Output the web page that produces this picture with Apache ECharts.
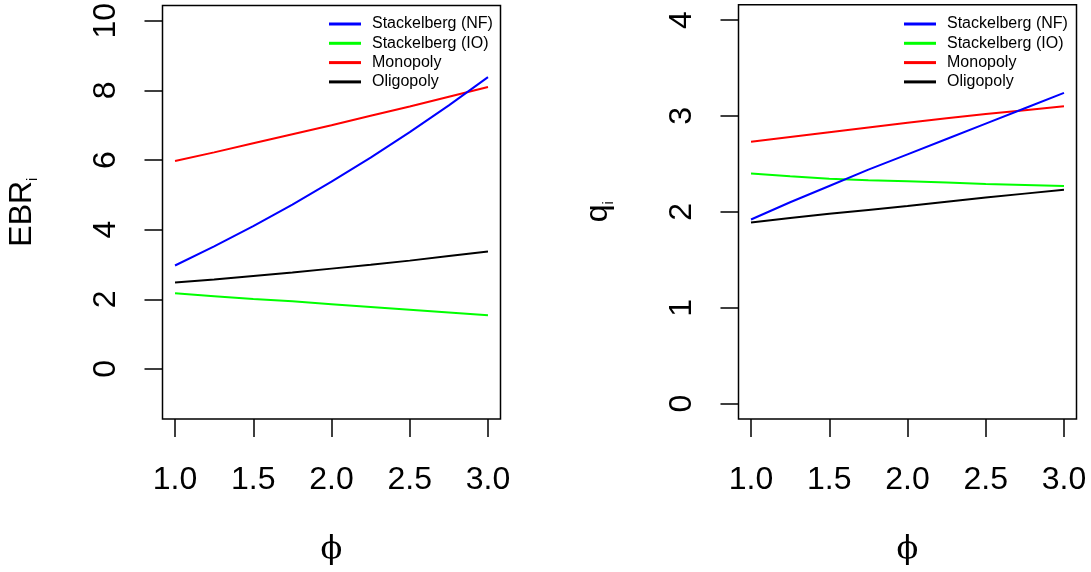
<!DOCTYPE html>
<html>
<head>
<meta charset="utf-8">
<script src="https://cdn.jsdelivr.net/npm/echarts@6/dist/echarts.min.js"></script>
<style>html,body{margin:0;padding:0;background:#fff}#c{width:1091px;height:572px}</style>
</head>
<body>
<div id="c"></div>
<script>
const phi = [1.0, 1.25, 1.5, 1.75, 2.0, 2.25, 2.5, 2.75, 3.0];
const seriesNames = ['Stackelberg (NF)', 'Stackelberg (IO)', 'Monopoly', 'Oligopoly'];
const seriesColors = ['#0000FF', '#00FF00', '#FF0000', '#000000'];

const ebrNF = [2.97, 3.52, 4.10, 4.72, 5.38, 6.07, 6.80, 7.57, 8.38];
const ebrIO = [2.17, 2.09, 2.01, 1.94, 1.86, 1.78, 1.70, 1.62, 1.54];
const ebrMono = [5.97, 6.22, 6.48, 6.74, 7.00, 7.27, 7.54, 7.82, 8.10];
const ebrOligo = [2.48, 2.57, 2.67, 2.77, 2.88, 2.99, 3.11, 3.24, 3.37];

const qNF = [1.92, 2.10, 2.27, 2.44, 2.60, 2.76, 2.92, 3.08, 3.24];
const qIO = [2.40, 2.37, 2.345, 2.33, 2.32, 2.305, 2.29, 2.28, 2.27];
const qMono = [2.73, 2.78, 2.83, 2.88, 2.93, 2.975, 3.02, 3.06, 3.10];
const qOligo = [1.89, 1.935, 1.98, 2.02, 2.06, 2.105, 2.15, 2.19, 2.23];

const xTicks = [1.0, 1.5, 2.0, 2.5, 3.0];
const ebrTicks = [0, 2, 4, 6, 8, 10];
const qTicks = [0, 1, 2, 3, 4];

const FONT = "'Liberation Sans', Arial, Helvetica, sans-serif";
const chart = echarts.init(document.getElementById('c'), null, {renderer: 'canvas'});

function pairs(xs, ys) { return xs.map((x, i) => [x, ys[i]]); }

function xAxisDef(gridIndex) {
  return {
    type: 'value', gridIndex: gridIndex, min: 0.92, max: 3.08,
    splitLine: {show: false},
    axisLine: {show: false, onZero: false},
    axisTick: {show: true, length: 18, customValues: xTicks, lineStyle: {color: '#000', width: 1.5}},
    axisLabel: {customValues: xTicks, formatter: v => v.toFixed(1), fontSize: 32, fontFamily: FONT, color: '#000', margin: 45},
    name: 'ϕ', nameLocation: 'middle', nameGap: 115,
    nameTextStyle: {fontSize: 32, fontFamily: "'DejaVu Serif', serif", color: '#000'}
  };
}
function yAxisDef(gridIndex, min, max, ticks, nameMain) {
  return {
    type: 'value', gridIndex: gridIndex, min: min, max: max,
    splitLine: {show: false},
    axisLine: {show: false, onZero: false},
    axisTick: {show: true, length: 18, customValues: ticks, lineStyle: {color: '#000', width: 1.5}},
    axisLabel: {customValues: ticks, fontSize: 32, fontFamily: FONT, color: '#000', rotate: 90, margin: 40},
    name: '{a|' + nameMain + '}{b|i}', nameLocation: 'middle', nameGap: 122, nameRotate: 90,
    nameTextStyle: {
      rich: {
        a: {fontSize: 32, fontFamily: FONT, color: '#000', lineHeight: 36},
        b: {fontSize: 14, fontFamily: FONT, color: '#000', lineHeight: 14, verticalAlign: 'bottom'}
      }
    }
  };
}

const leftData = [ebrNF, ebrIO, ebrMono, ebrOligo];
const rightData = [qNF, qIO, qMono, qOligo];
const series = [];
[leftData, rightData].forEach((set, gi) => {
  set.forEach((vals, k) => {
    series.push({
      type: 'line', name: seriesNames[k], xAxisIndex: gi, yAxisIndex: gi,
      data: pairs(phi, vals), symbol: 'none', smooth: false,
      lineStyle: {color: seriesColors[k], width: 2}, itemStyle: {color: seriesColors[k]},
      z: 5 - k, silent: true, animation: false
    });
  });
});

function legendDef(left) {
  return {
    orient: 'vertical', left: left, top: 16, padding: 0, itemGap: 3.3,
    itemWidth: 32, itemHeight: 3, icon: 'rect',
    data: seriesNames,
    textStyle: {fontSize: 16, fontFamily: FONT, color: '#000', padding: [0, 0, 0, 6]},
    selectedMode: false
  };
}

chart.setOption({
  animation: false,
  backgroundColor: '#fff',
  grid: [
    {left: 162.5, top: 4.7, width: 338, height: 414.3, show: true, borderColor: '#000', borderWidth: 1.5, backgroundColor: 'transparent'},
    {left: 738.5, top: 4.7, width: 338, height: 414.3, show: true, borderColor: '#000', borderWidth: 1.5, backgroundColor: 'transparent'}
  ],
  legend: [legendDef(329), legendDef(904)],
  xAxis: [xAxisDef(0), xAxisDef(1)],
  yAxis: [yAxisDef(0, -1.44, 10.44, ebrTicks, 'EBR'), yAxisDef(1, -0.16, 4.16, qTicks, 'q')],
  series: series
});
</script>
</body>
</html>
